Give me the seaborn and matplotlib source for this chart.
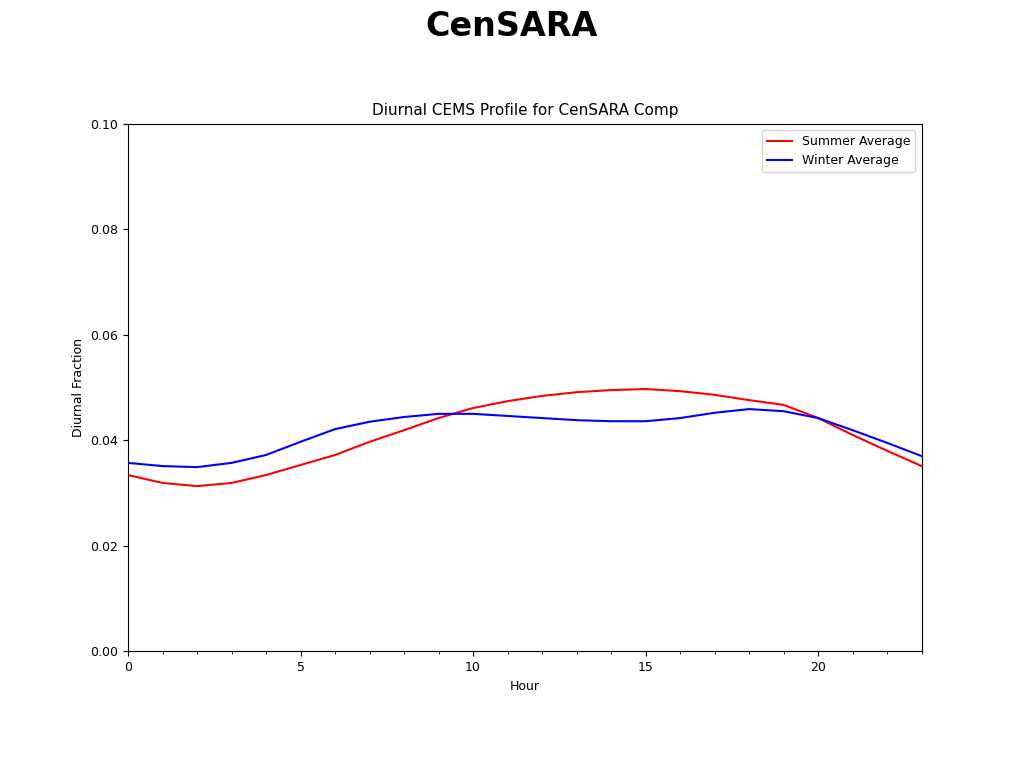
import matplotlib
matplotlib.use("Agg")
import matplotlib.pyplot as plt
import seaborn as sns
import pandas as pd
from matplotlib.ticker import MultipleLocator

hours = list(range(24))
summer = [0.0334,0.0319,0.0313,0.0319,0.0334,0.0353,0.0372,0.0397,0.0419,0.0442,0.0461,0.0474,
          0.0484,0.0491,0.0495,0.0497,0.0493,0.0486,0.0476,0.0467,0.0442,0.0410,0.0380,0.0351]
winter = [0.0357,0.0351,0.0349,0.0357,0.0372,0.0397,0.0421,0.0435,0.0444,0.0450,0.0450,0.0446,
          0.0442,0.0438,0.0436,0.0436,0.0442,0.0452,0.0459,0.0455,0.0442,0.0419,0.0395,0.0370]

df = pd.DataFrame({"Hour": hours*2, "Frac": summer+winter,
                   "Series": ["Summer Average"]*24 + ["Winter Average"]*24})

fig = plt.figure(figsize=(10.24, 7.68), dpi=100)
ax = fig.add_axes([0.125, 0.152, 0.775, 0.687])
sns.lineplot(data=df, x="Hour", y="Frac", hue="Series", palette=["red", "blue"], ax=ax, linewidth=1.5)
ax.set_xlim(0, 23)
ax.set_ylim(0, 0.10)
ax.set_yticks([0, 0.02, 0.04, 0.06, 0.08, 0.10])
ax.set_yticklabels(["0.00", "0.02", "0.04", "0.06", "0.08", "0.10"])
ax.xaxis.set_major_locator(MultipleLocator(5))
ax.xaxis.set_minor_locator(MultipleLocator(1))
ax.tick_params(labelsize=9)
ax.set_xlabel("Hour", fontsize=9)
ax.set_ylabel("Diurnal Fraction", fontsize=9)
ax.set_title("Diurnal CEMS Profile for CenSARA Comp", fontsize=11)
ax.legend(title=None, loc="upper right", fontsize=9)
fig.text(0.5, 0.965, "CenSARA", ha="center", va="center", fontsize=24, fontweight="bold")
fig.savefig("out.png", dpi=100)
